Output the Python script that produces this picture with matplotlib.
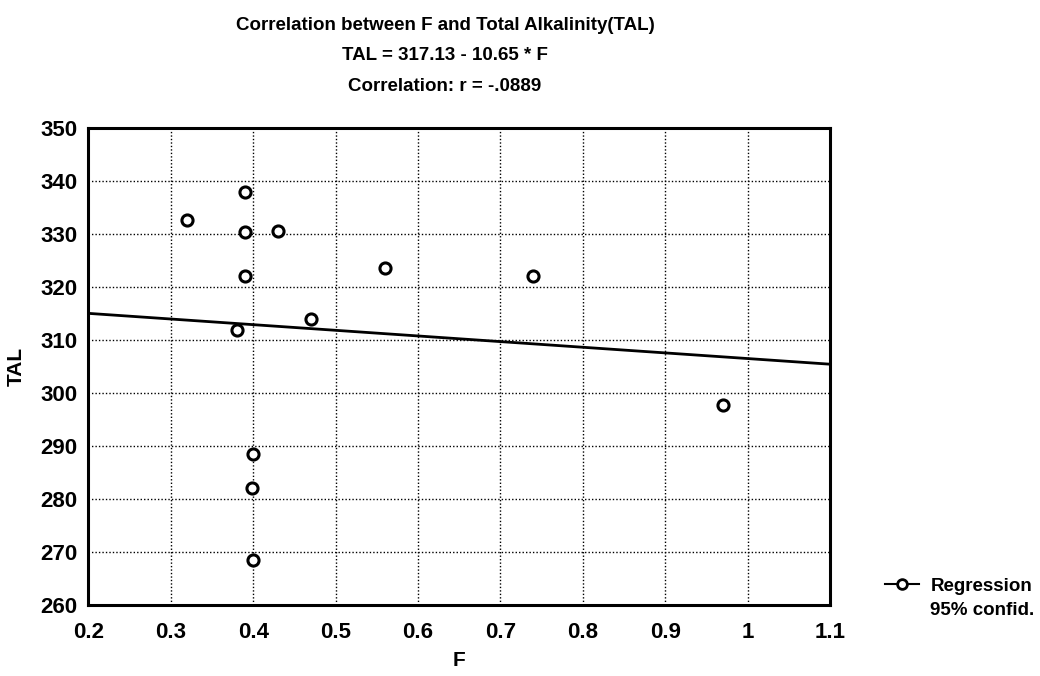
import numpy as np
import matplotlib
matplotlib.use('Agg')
import matplotlib.pyplot as plt
from matplotlib.lines import Line2D

plt.rcParams['font.family'] = ['Liberation Sans', 'DejaVu Sans']
plt.rcParams['font.weight'] = 'bold'

# ---- data ----
F = [0.32, 0.39, 0.39, 0.43, 0.39, 0.38, 0.47, 0.56, 0.74, 0.40, 0.398, 0.40, 0.97]
TAL = [332.7, 337.8, 330.3, 330.5, 322.1, 311.9, 314.0, 323.5, 322.1, 288.4, 282.0, 268.4, 297.8]

intercept = 317.13
slope = -10.65
r_value = -0.0889

x_ticks = [0.2, 0.3, 0.4, 0.5, 0.6, 0.7, 0.8, 0.9, 1.0, 1.1]
x_tick_labels = ['0.2', '0.3', '0.4', '0.5', '0.6', '0.7', '0.8', '0.9', '1', '1.1']
y_ticks = [260, 270, 280, 290, 300, 310, 320, 330, 340, 350]

fig = plt.figure(figsize=(10.4, 6.76), dpi=100)
ax = fig.add_axes([0.085, 0.105, 0.713, 0.706])

# regression line across the full x range
xs = np.array([x_ticks[0], x_ticks[-1]])
ax.plot(xs, intercept + slope * xs, color='black', linewidth=2, zorder=3)

ax.plot(F, TAL, linestyle='none', marker='o', markersize=8,
        markerfacecolor='white', markeredgecolor='black', markeredgewidth=2.2, zorder=4)

ax.set_xlim(0.2, 1.1)
ax.set_ylim(260, 350)
ax.set_xticks(x_ticks)
ax.set_xticklabels(x_tick_labels)
ax.set_yticks(y_ticks)
ax.tick_params(length=0, labelsize=16, pad=8)
ax.tick_params(axis='x', pad=12)
ax.grid(True, color='black', linestyle=(0, (1, 1.5)), linewidth=1)
for sp in ax.spines.values():
    sp.set_linewidth(2.2)

ax.set_xlabel('F', fontsize=15, fontweight='bold', labelpad=6)
ax.set_ylabel('TAL', fontsize=15, fontweight='bold', labelpad=10)

# three-line heading
fig.text(0.428, 0.962, 'Correlation between F and Total Alkalinity(TAL)',
         ha='center', va='center', fontsize=13.5, fontweight='bold')
fig.text(0.428, 0.918, f'TAL = {intercept:.2f} - {abs(slope):.2f} * F',
         ha='center', va='center', fontsize=13.5, fontweight='bold')
fig.text(0.428, 0.872, 'Correlation: r = -.0889',
         ha='center', va='center', fontsize=13.5, fontweight='bold')

# legend: regression symbol, second row carries only the confidence label
handle = Line2D([], [], color='black', linewidth=1.5, marker='o', markersize=7,
                markerfacecolor='white', markeredgecolor='black', markeredgewidth=2)
blank = Line2D([], [], linestyle='none', marker=None)
fig.legend([handle, blank], ['Regression', '95% confid.'], loc='center left',
           bbox_to_anchor=(0.835, 0.115), frameon=False, fontsize=13.5,
           handlelength=1.8, handletextpad=0.6, labelspacing=0.35)

plt.savefig('out.png', dpi=100)
